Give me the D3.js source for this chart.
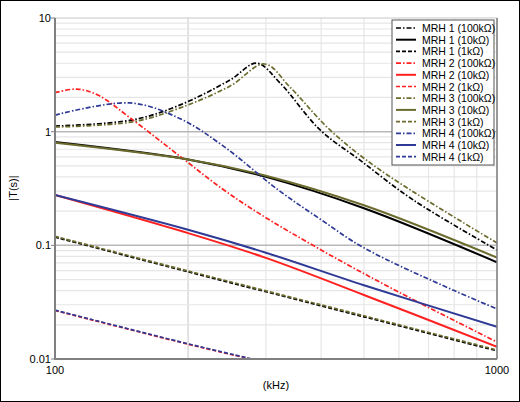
<!DOCTYPE html>
<html><head><meta charset="utf-8">
<script src="https://cdn.jsdelivr.net/npm/d3@7"></script>
<style>body{margin:0;background:#fff}svg{display:block}text{font-family:"Liberation Sans",Arial,sans-serif}</style>
</head><body><svg id="c" width="520" height="402"></svg>
<script>
const xTicks=[100,1000], yTicks=[0.01,0.1,1,10];
const names=["MRH 1 (100kΩ)","MRH 1 (10kΩ)","MRH 1 (1kΩ)","MRH 2 (100kΩ)","MRH 2 (10kΩ)","MRH 2 (1kΩ)","MRH 3 (100kΩ)","MRH 3 (10kΩ)","MRH 3 (1kΩ)","MRH 4 (100kΩ)","MRH 4 (10kΩ)","MRH 4 (1kΩ)"];
const colors=["#000000","#000000","#000000","#ff2020","#ff2020","#ff2020","#6b6b2e","#6b6b2e","#6b6b2e","#2e3a96","#2e3a96","#2e3a96"];
const styles=["dashdot","solid","dash","dashdot","solid","dash","dashdot","solid","dash","dashdot","solid","dash"];
const mrh1_100k=[[100,1.12],[150,1.27],[192,1.72],[249,2.85],[286,4.0],[323,2.68],[398,1.035],[489,0.564],[646,0.251],[1000,0.091]];
const mrh1_10k=[[100,0.81],[200,0.57],[300,0.40],[500,0.212],[1000,0.071]];
const mrh1_1k=[[100,0.118],[200,0.0585],[500,0.0235],[1000,0.0118]];
const mrh2_100k=[[100,2.2],[112,2.37],[125,2.1],[148,1.32],[192,0.605],[238,0.318],[290,0.19],[400,0.091],[600,0.0387],[1000,0.0141]];
const mrh2_10k=[[100,0.277],[200,0.128],[300,0.0775],[500,0.0366],[1000,0.0128]];
const mrh2_1k=[[100,0.0267],[200,0.0135],[273,0.0101],[300,0.0092]];
const mrh3_100k=[[100,1.1],[150,1.22],[192,1.62],[249,2.52],[298,3.94],[340,2.47],[419,1.035],[544,0.46],[1000,0.105]];
const mrh3_10k=[[100,0.80],[200,0.57],[300,0.41],[500,0.225],[1000,0.078]];
const mrh3_1k=[[100,0.12],[200,0.0595],[500,0.024],[1000,0.012]];
const mrh4_100k=[[100,1.40],[148,1.79],[192,1.3],[240,0.75],[320,0.307],[400,0.168],[500,0.095],[800,0.040],[1000,0.0276]];
const mrh4_10k=[[100,0.277],[200,0.137],[300,0.0861],[500,0.0446],[1000,0.0192]];
const mrh4_1k=[[100,0.0269],[200,0.0136],[273,0.0102],[300,0.0093]];
const series=[mrh1_100k,mrh1_10k,mrh1_1k,mrh2_100k,mrh2_10k,mrh2_1k,mrh3_100k,mrh3_10k,mrh3_1k,mrh4_100k,mrh4_10k,mrh4_1k];

const svg=d3.select("#c");
const L=55,R=497,T=18,B=359;
const x=d3.scaleLog().domain([100,1000]).range([L,R]);
const y=d3.scaleLog().domain([0.01,10]).range([B,T]);
svg.append("rect").attr("x",0.5).attr("y",0.5).attr("width",519).attr("height",401).attr("fill","#fff").attr("stroke","#000");
const g=svg.append("g");
for(let d=100;d<1000;d*=10)for(let k=2;k<10;k++){const v=d*k;
 g.append("line").attr("x1",x(v)).attr("x2",x(v)).attr("y1",T).attr("y2",B).attr("stroke",k==2?"#d0d0d0":"#e6e6e6").attr("stroke-width",1.2);}
for(let d=0.01;d<9;d*=10)for(let k=1;k<10;k++){const v=d*k; if(v<0.0101&&k==1)continue;
 g.append("line").attr("x1",L).attr("x2",R).attr("y1",y(v)).attr("y2",y(v)).attr("stroke",k==1?"#b8b8b8":"#e6e6e6").attr("stroke-width",k==1?1.5:1.2);}
g.append("rect").attr("x",L).attr("y",T).attr("width",R-L).attr("height",B-T).attr("fill","none").attr("stroke","#c8c8c8");
svg.append("defs").append("clipPath").attr("id","cp").append("rect").attr("x",L).attr("y",T).attr("width",R-L).attr("height",B-T);
const dash={solid:null,dash:"4,2",dashdot:"5,2,1.5,2"};
const line=d3.line().x(d=>x(d[0])).y(d=>y(d[1])).curve(d3.curveCatmullRom.alpha(0.5));
const cg=svg.append("g").attr("clip-path","url(#cp)");
series.forEach((s,i)=>{cg.append("path").attr("d",line(s)).attr("fill","none").attr("stroke",colors[i])
 .attr("stroke-width",styles[i]=="solid"?2:1.7).attr("stroke-dasharray",dash[styles[i]]);});
svg.append("line").attr("x1",L).attr("x2",L).attr("y1",T).attr("y2",B+1).attr("stroke","#808080").attr("stroke-width",2);
svg.append("line").attr("x1",L).attr("x2",R).attr("y1",B).attr("y2",B).attr("stroke","#808080").attr("stroke-width",2);
svg.append("line").attr("x1",R).attr("x2",R).attr("y1",T).attr("y2",B).attr("stroke","#808080").attr("stroke-width",1.5);
yTicks.forEach(v=>{svg.append("line").attr("x1",L-4).attr("x2",L).attr("y1",y(v)).attr("y2",y(v)).attr("stroke","#808080");
 svg.append("text").attr("x",L-4).attr("y",y(v)+4).attr("text-anchor","end").attr("font-size",11).text(String(v));});
xTicks.forEach(v=>{svg.append("text").attr("x",x(v)).attr("y",B+15).attr("text-anchor","middle").attr("font-size",11).text(v);});
svg.append("text").attr("x",(L+R)/2).attr("y",389).attr("text-anchor","middle").attr("font-size",11).text("(kHz)");
svg.append("text").attr("transform","translate(17,188) rotate(-90)").attr("text-anchor","middle").attr("font-size",11).text("|T(s)|");
const lg=svg.append("g");
lg.append("rect").attr("x",392).attr("y",20).attr("width",102).attr("height",145).attr("fill","#fff").attr("stroke","#555");
names.forEach((n,i)=>{const yy=28+i*11.7;
 lg.append("line").attr("x1",396).attr("x2",416).attr("y1",yy).attr("y2",yy).attr("stroke",colors[i]).attr("stroke-width",styles[i]=="solid"?2:1.7).attr("stroke-dasharray",dash[styles[i]]);
 lg.append("text").attr("x",422).attr("y",yy+4).attr("font-size",10.5).text(n);});
</script></body></html>
